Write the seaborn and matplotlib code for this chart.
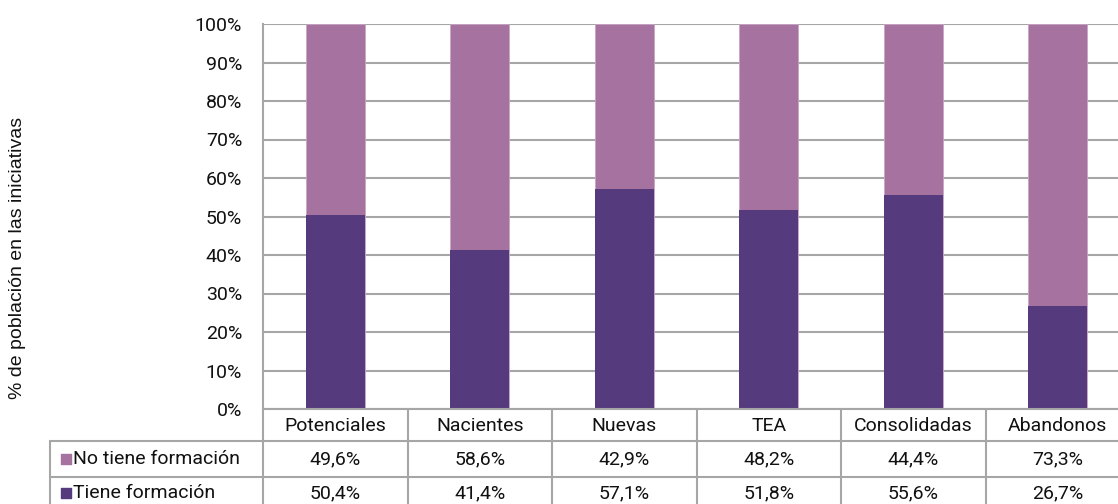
import matplotlib
matplotlib.use("Agg")
import matplotlib.pyplot as plt
import seaborn as sns
import numpy as np
import pandas as pd

categorias = ['Potenciales', 'Nacientes', 'Nuevas', 'TEA', 'Consolidadas', 'Abandonos']
no_tiene = [49.6, 58.6, 42.9, 48.2, 44.4, 73.3]
tiene = [50.4, 41.4, 57.1, 51.8, 55.6, 26.7]
series = ['No tiene formación', 'Tiene formación']
etiquetas_y = ['0%', '10%', '20%', '30%', '40%', '50%', '60%', '70%', '80%', '90%', '100%']

color_claro = '#A673A0'
color_oscuro = '#553A7E'
gris = '#A6A6A6'
negro = '#111111'
fs = 14

sns.set_theme(style='white')
plt.rcParams['font.family'] = ['Roboto', 'DejaVu Sans']

W, H = 1118, 504
fig = plt.figure(figsize=(W / 100, H / 100), dpi=100)

# plot area in pixels (right edge is cut off in the original)
x0, x1, y_top, y_bot = 263, 1130, 24, 409
ax = fig.add_axes([x0 / W, 1 - y_bot / H, (x1 - x0) / W, (y_bot - y_top) / H])

df = pd.DataFrame({'cat': categorias, 'no': no_tiene, 'si': tiene})
df['total'] = df['no'] + df['si']

sns.barplot(data=df, x='cat', y='total', order=categorias, color=color_claro,
            width=0.41, saturation=1, ax=ax, edgecolor='#C9A6C4', linewidth=0.6, zorder=3)
sns.barplot(data=df, x='cat', y='si', order=categorias, color=color_oscuro,
            width=0.41, saturation=1, ax=ax, linewidth=0, zorder=4)

ax.set_xlim(-0.5, len(categorias) - 0.5)
ax.set_ylim(0, 100)
ax.set_yticks(np.arange(0, 101, 10))
ax.set_yticklabels(etiquetas_y, fontsize=fs, color=negro)
ax.tick_params(axis='y', length=0, pad=15)
ax.set_xticks([])
ax.set_xlabel('')
ax.set_ylabel('')
ax.grid(axis='y', color=gris, linewidth=1.5, zorder=0)
ax.set_axisbelow(True)
for s in ['top', 'right', 'bottom']:
    ax.spines[s].set_visible(False)
ax.spines['left'].set_color(gris)
ax.spines['left'].set_linewidth(1.5)

fig.text(18 / W, 1 - 258 / H, '% de población en las iniciativas', rotation=90,
         ha='center', va='center', fontsize=14,
         family=['Liberation Sans', 'DejaVu Sans'], color=negro)

# data table below the chart, in pixel coordinates
tab = fig.add_axes([0, 0, 1, (H - y_bot) / H])
tab.set_xlim(0, W)
tab.set_ylim(H, y_bot)
tab.axis('off')

cw = (x1 - x0) / len(categorias)
filas = [409, 441, 477, 511]
lw = 1.5
tab.plot([x0, x1], [filas[0], filas[0]], color=gris, lw=lw, clip_on=False)
for yy in filas[1:]:
    tab.plot([50, x1], [yy, yy], color=gris, lw=lw, clip_on=False)
tab.plot([50, 50], [filas[1], filas[3]], color=gris, lw=lw, clip_on=False)
for i in range(len(categorias) + 1):
    xx = x0 + i * cw
    tab.plot([xx, xx], [filas[0], filas[3]], color=gris, lw=lw, clip_on=False)

for i, cat in enumerate(categorias):
    xc = x0 + (i + 0.5) * cw
    tab.text(xc, (filas[0] + filas[1]) / 2 + 1, cat, ha='center', va='center', fontsize=fs, color=negro)
    tab.text(xc, (filas[1] + filas[2]) / 2, f'{no_tiene[i]:.1f}%'.replace('.', ','),
             ha='center', va='center', fontsize=fs, color=negro)
    tab.text(xc, (filas[2] + filas[3]) / 2 - 1, f'{tiene[i]:.1f}%'.replace('.', ','),
             ha='center', va='center', fontsize=fs, color=negro)

for j, (nombre, col) in enumerate(zip(series, [color_claro, color_oscuro])):
    yc = (filas[j + 1] + filas[j + 2]) / 2 - (1 if j == 1 else 0)
    tab.scatter([66], [yc], marker='s', s=60, color=col, clip_on=False)
    tab.text(73, yc, nombre, ha='left', va='center', fontsize=fs, color=negro)

fig.savefig('out.png', dpi=100)
